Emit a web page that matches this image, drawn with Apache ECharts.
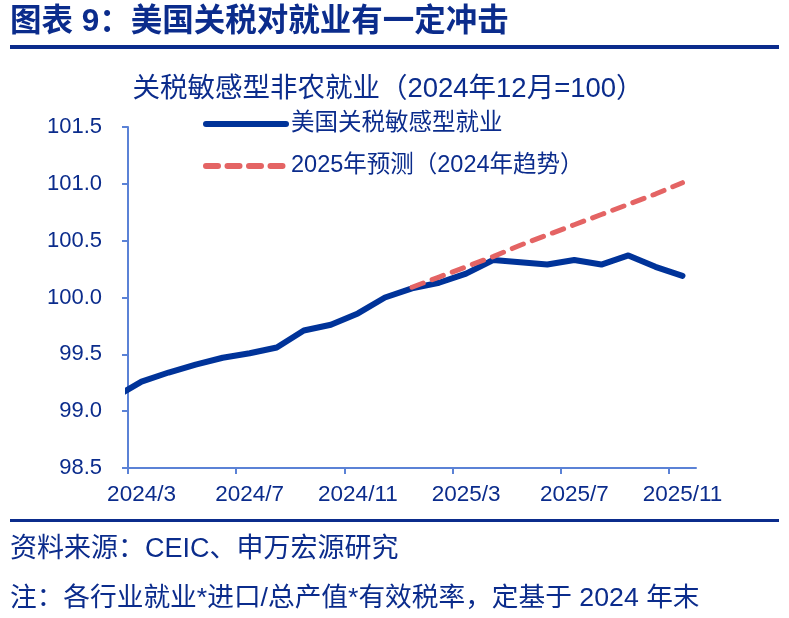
<!DOCTYPE html>
<html><head><meta charset="utf-8">
<script src="https://cdn.jsdelivr.net/npm/echarts@6/dist/echarts.min.js"></script>
<style>html,body{margin:0;padding:0;background:#fff}#c{width:789px;height:618px}</style>
</head><body><div id="c"></div>
<script>
// ---- data ----
const months = ['2024/2','2024/3','2024/4','2024/5','2024/6','2024/7','2024/8','2024/9','2024/10','2024/11','2024/12',
  '2025/1','2025/2','2025/3','2025/4','2025/5','2025/6','2025/7','2025/8','2025/9','2025/10','2025/11'];
const sensitiveEmployment = [99.12,99.26,99.34,99.41,99.47,99.51,99.56,99.71,99.76,99.86,100.00,
  100.08,100.13,100.21,100.33,100.31,100.29,100.33,100.29,100.37,100.27,100.19];
const forecastMonths = ['2025/1','2025/2','2025/3','2025/4','2025/5','2025/6','2025/7','2025/8','2025/9','2025/10','2025/11'];
const forecast2025 = [100.09,100.18,100.27,100.36,100.46,100.55,100.64,100.73,100.82,100.91,101.01];
const xTickLabels = ['2024/3','2024/7','2024/11','2025/3','2025/7','2025/11'];
const axisStart = '2024/3', axisEnd = '2025/12';
const yMin = 98.5, yMax = 101.5, yStep = 0.5;
const seriesNames = ['美国关税敏感型就业','2025年预测（2024年趋势）'];

// month label -> month index from axis start (ticks at month start, data and labels at mid-month)
function monthIndex(lbl){ const [y,m]=lbl.split('/').map(Number); const [y0,m0]=axisStart.split('/').map(Number); return (y-y0)*12+(m-m0); }
const tickVals = xTickLabels.map(monthIndex);
const labelVals = xTickLabels.map(l=>monthIndex(l)+0.5);
const labelMap = {}; xTickLabels.forEach(l=>labelMap[monthIndex(l)+0.5]=l);

const NAVY = '#0b2c8c';
const BLUE = '#003399', RED = '#e46464';
const DASH = [12, 9.5];
const FONT = '"Liberation Sans", Arial, "Noto Sans CJK SC", sans-serif';

const chart = echarts.init(document.getElementById('c'));
chart.setOption({
  animation:false,
  backgroundColor:'#fff',
  textStyle:{fontFamily:FONT},
  title:{
    text:'关税敏感型非农就业（2024年12月=100）',
    left:383, top:71, textAlign:'center',
    textStyle:{color:NAVY, fontSize:27.5, fontWeight:'normal', fontFamily:FONT}
  },
  graphic:[
    {type:'text', left:10, top:7, style:{text:'图表 9：美国关税对就业有一定冲击', fill:NAVY, font:'bold 31.5px '+FONT}},
    {type:'rect', shape:{x:10,y:45,width:769,height:4}, style:{fill:NAVY}},
    {type:'rect', shape:{x:10,y:519,width:769,height:3}, style:{fill:NAVY}},
    {type:'text', left:10, top:536, style:{text:'资料来源：CEIC、申万宏源研究', fill:NAVY, font:'27px '+FONT}},
    {type:'text', left:10, top:585, style:{text:'注：各行业就业*进口/总产值*有效税率，定基于 2024 年末', fill:NAVY, font:'26.7px '+FONT}}
  ],
  legend:{
    orient:'vertical', left:203, top:111, padding:0, itemWidth:80, itemHeight:14, itemGap:16,
    textStyle:{color:NAVY, fontSize:23.5, lineHeight:26, fontFamily:FONT},
    data:[
      {name:seriesNames[0], itemStyle:{opacity:0}, lineStyle:{width:6, color:BLUE, cap:'round'}},
      {name:seriesNames[1], itemStyle:{opacity:0}, lineStyle:{width:6, color:RED, type:DASH, cap:'round'}}
    ]
  },
  grid:{left:128, right:93, top:127, bottom:150},
  xAxis:{
    type:'value', min:0, max:monthIndex(axisEnd),
    axisLine:{lineStyle:{color:'#5b82d6', width:2}},
    axisTick:{customValues:tickVals, length:6, lineStyle:{color:'#5b82d6', width:2}},
    axisLabel:{customValues:labelVals, formatter:v=>labelMap[v]||'', color:NAVY, fontSize:22.5, margin:16, fontFamily:FONT},
    splitLine:{show:false}
  },
  yAxis:{
    type:'value', min:yMin, max:yMax, interval:yStep,
    axisLine:{show:true, lineStyle:{color:'#5b82d6', width:2}},
    axisTick:{show:true, length:6, lineStyle:{color:'#5b82d6', width:2}},
    axisLabel:{formatter:v=>v.toFixed(1), color:NAVY, fontSize:22, margin:26, fontFamily:FONT},
    splitLine:{show:false}
  },
  series:[
    {name:seriesNames[0], type:'line', symbol:'none', clip:true,
     lineStyle:{color:BLUE, width:6, cap:'round', join:'round'},
     itemStyle:{color:BLUE},
     data:months.map((m,i)=>[monthIndex(m)+0.5, sensitiveEmployment[i]])},
    {name:seriesNames[1], type:'line', symbol:'none', clip:true, z:3,
     lineStyle:{color:RED, width:5, type:DASH, cap:'round'},
     itemStyle:{color:RED},
     data:forecastMonths.map((m,i)=>[monthIndex(m)+0.5, forecast2025[i]])}
  ]
});
</script></body></html>
